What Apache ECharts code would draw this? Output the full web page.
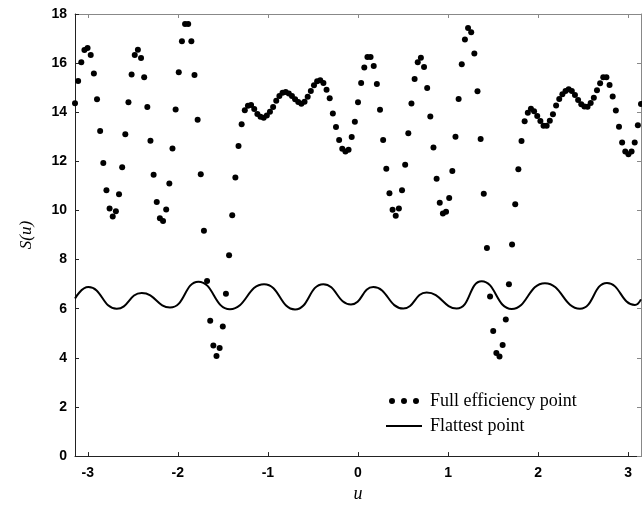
<!DOCTYPE html>
<html>
<head>
<meta charset="utf-8">
<script src="https://cdn.jsdelivr.net/npm/echarts@6/dist/echarts.min.js"></script>
<style>
  html, body { margin: 0; padding: 0; background: #fff; }
  #chart { width: 642px; height: 508px; }
</style>
</head>
<body>
<div id="chart"></div>
<script>
// sample grid of the dotted curve: u from -pi to pi, every 2 degrees
var uStart = -Math.PI;
var uStep = Math.PI / 90;

// S(u) at the full efficiency point (181 samples)
var fullEfficiency = [
  14.37, 15.27, 16.04, 16.53, 16.62, 16.33, 15.58, 14.53, 13.24, 11.93,
  10.82, 10.08, 9.76, 9.97, 10.66, 11.76, 13.10, 14.41, 15.54, 16.33,
  16.54, 16.21, 15.42, 14.21, 12.84, 11.46, 10.35, 9.68, 9.57, 10.04,
  11.10, 12.52, 14.11, 15.63, 16.89, 17.59, 17.59, 16.89, 15.52, 13.69,
  11.48, 9.18, 7.13, 5.51, 4.50, 4.08, 4.40, 5.28, 6.61, 8.18,
  9.81, 11.34, 12.63, 13.51, 14.08, 14.26, 14.29, 14.13, 13.93, 13.82,
  13.78, 13.87, 14.02, 14.21, 14.47, 14.66, 14.79, 14.82, 14.76, 14.66,
  14.53, 14.42, 14.35, 14.43, 14.63, 14.86, 15.10, 15.26, 15.30, 15.19,
  14.92, 14.57, 13.95, 13.40, 12.87, 12.51, 12.40, 12.47, 12.99, 13.61,
  14.41, 15.19, 15.82, 16.25, 16.25, 15.88, 15.15, 14.10, 12.87, 11.70,
  10.70, 10.03, 9.79, 10.08, 10.82, 11.86, 13.14, 14.36, 15.35, 16.04,
  16.22, 15.84, 14.99, 13.83, 12.56, 11.29, 10.32, 9.88, 9.95, 10.51,
  11.61, 13.00, 14.54, 15.95, 16.96, 17.43, 17.26, 16.39, 14.85, 12.91,
  10.68, 8.47, 6.50, 5.09, 4.20, 4.06, 4.52, 5.56, 7.00, 8.62,
  10.25, 11.68, 12.83, 13.63, 13.98, 14.14, 14.04, 13.85, 13.64, 13.45,
  13.45, 13.65, 13.92, 14.27, 14.54, 14.73, 14.87, 14.94, 14.86, 14.70,
  14.50, 14.33, 14.23, 14.22, 14.38, 14.59, 14.90, 15.18, 15.42, 15.42,
  15.11, 14.64, 14.07, 13.41, 12.77, 12.40, 12.29, 12.40, 12.77, 13.47, 14.34
];

// flattest point curve: its peaks and troughs
var flatU = [-3.141, -2.993, -2.678, -2.401, -2.087, -1.772, -1.421, -1.043, -0.699, -0.385, -0.078,
  0.170, 0.503, 0.762, 1.095, 1.373, 1.706, 2.075, 2.464, 2.764, 3.074, 3.141];
var flatS = [6.42, 6.88, 6.00, 6.64, 6.05, 7.10, 5.98, 7.00, 5.97, 7.00, 6.17,
  6.88, 6.01, 6.66, 6.01, 7.12, 5.99, 7.04, 6.00, 7.05, 6.15, 6.38];

var xTicks = [-3, -2, -1, 0, 1, 2, 3];
var yTicks = [0, 2, 4, 6, 8, 10, 12, 14, 16, 18];

var dotData = [];
for (var i = 0; i < fullEfficiency.length; i++) {
  dotData.push([uStart + i * uStep, fullEfficiency[i]]);
}
var lineData = [];
for (var j = 0; j < flatU.length; j++) {
  lineData.push([flatU[j], flatS[j]]);
}

var axisColor = "#222";
var frameColor = "#888";
var labelStyle = {
  color: "#000",
  fontFamily: "Liberation Sans",
  fontWeight: "bold",
  fontSize: 14
};

var myChart = echarts.init(document.getElementById("chart"));
var option = {
  animation: false,
  grid: { left: 75, right: 1, top: 14, bottom: 46 },
  legend: {
    left: 381,
    top: 387,
    orient: "vertical",
    itemWidth: 36,
    itemHeight: 6,
    itemGap: 7,
    textStyle: {
      color: "#000",
      fontFamily: "Liberation Serif",
      fontSize: 18,
      padding: [0, 0, 0, 3]
    },
    data: [
      {
        name: "Full efficiency point",
        icon: "path://M0,3a3,3 0 1,0 6,0a3,3 0 1,0 -6,0M12,3a3,3 0 1,0 6,0a3,3 0 1,0 -6,0M24,3a3,3 0 1,0 6,0a3,3 0 1,0 -6,0"
      },
      {
        name: "Flattest point",
        icon: "path://M0,0L36,0L36,2L0,2Z",
        itemStyle: { color: "#000" }
      }
    ]
  },
  xAxis: [
    {
      type: "value",
      min: -Math.PI,
      max: Math.PI,
      name: "u",
      nameLocation: "middle",
      nameGap: 25,
      nameTextStyle: {
        fontFamily: "Liberation Serif",
        fontStyle: "italic",
        fontSize: 18,
        color: "#000"
      },
      axisLine: { onZero: false, lineStyle: { color: axisColor, width: 1 } },
      axisTick: { inside: true, length: 4, customValues: xTicks, lineStyle: { color: axisColor } },
      axisLabel: Object.assign({ margin: 10, customValues: xTicks }, labelStyle),
      splitLine: { show: false }
    },
    {
      type: "value",
      position: "top",
      min: -Math.PI,
      max: Math.PI,
      axisLine: { onZero: false, lineStyle: { color: frameColor, width: 1 } },
      axisTick: { inside: true, length: 4, customValues: xTicks, lineStyle: { color: frameColor } },
      axisLabel: { show: false },
      splitLine: { show: false }
    }
  ],
  yAxis: [
    {
      type: "value",
      min: 0,
      max: 18,
      interval: 2,
      name: "S(u)",
      nameLocation: "middle",
      nameGap: 40,
      nameRotate: 90,
      nameTextStyle: {
        fontFamily: "Liberation Serif",
        fontStyle: "italic",
        fontSize: 17,
        color: "#000"
      },
      axisLine: { show: true, onZero: false, lineStyle: { color: axisColor, width: 1 } },
      axisTick: { show: true, inside: true, length: 4, lineStyle: { color: axisColor } },
      axisLabel: Object.assign({ margin: 8, customValues: yTicks }, labelStyle),
      splitLine: { show: false }
    },
    {
      type: "value",
      position: "right",
      min: 0,
      max: 18,
      interval: 2,
      axisLine: { show: true, onZero: false, lineStyle: { color: frameColor, width: 1 } },
      axisTick: { show: true, inside: true, length: 4, lineStyle: { color: frameColor } },
      axisLabel: { show: false },
      splitLine: { show: false }
    }
  ],
  series: [
    {
      name: "Full efficiency point",
      type: "scatter",
      data: dotData,
      symbol: "circle",
      symbolSize: 6,
      clip: false,
      itemStyle: { color: "#000", opacity: 1 }
    },
    {
      name: "Flattest point",
      type: "line",
      data: lineData,
      smooth: 0.5,
      symbol: "none",
      lineStyle: { color: "#000", width: 2 },
      itemStyle: { color: "#000" }
    }
  ]
};
myChart.setOption(option);
</script>
</body>
</html>
